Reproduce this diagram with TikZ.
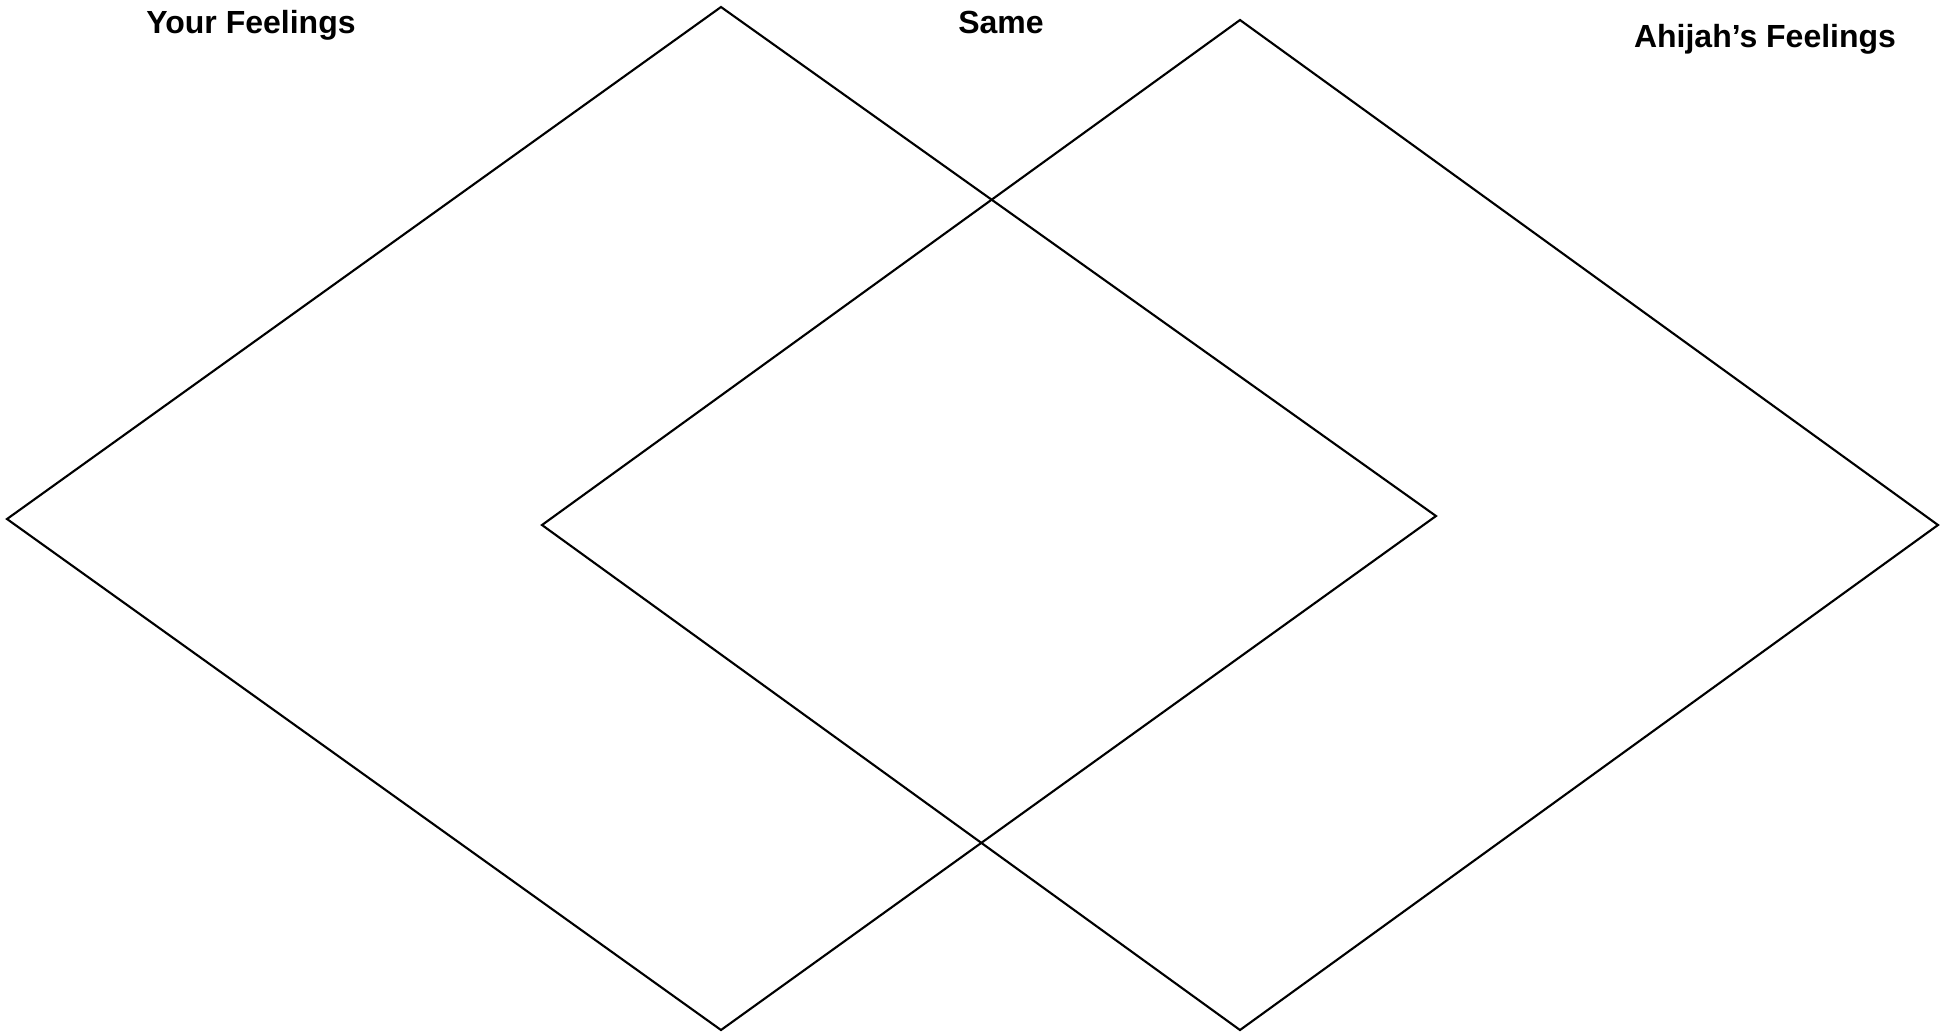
\documentclass[tikz,border=0pt]{standalone}
\usepackage{fontspec}
\setmainfont{Liberation Sans}
\begin{document}
\begin{tikzpicture}[x=0.01cm, y=-0.01cm, line width=0.6pt,
		heading/.style={anchor=base, inner sep=0pt, font=\fontsize{9.1}{11}\selectfont\bfseries}]
		\useasboundingbox (0, 0) rectangle (1950, 1032);
		% corners of the two diamonds
		\coordinate (yt) at (721, 7);
		\coordinate (yl) at (7, 519);
		\coordinate (yb) at (721, 1030);
		\coordinate (yr) at (1436, 516);
		\coordinate (at) at (1240, 20);
		\coordinate (al) at (542, 525);
		\coordinate (ab) at (1240, 1030);
		\coordinate (ar) at (1938, 525);
		% diamonds
		\draw (yt) -- (yr) -- (yb) -- (yl) -- cycle;
		\draw (at) -- (ar) -- (ab) -- (al) -- cycle;
		% headings
		\node[heading] (your) at (251, 33) {Your Feelings};
		\node[heading] (same) at (1001, 33) {Same};
		\node[heading] (ahijah) at (1765, 47) {Ahijah’s Feelings};
	\end{tikzpicture}
\end{document}
